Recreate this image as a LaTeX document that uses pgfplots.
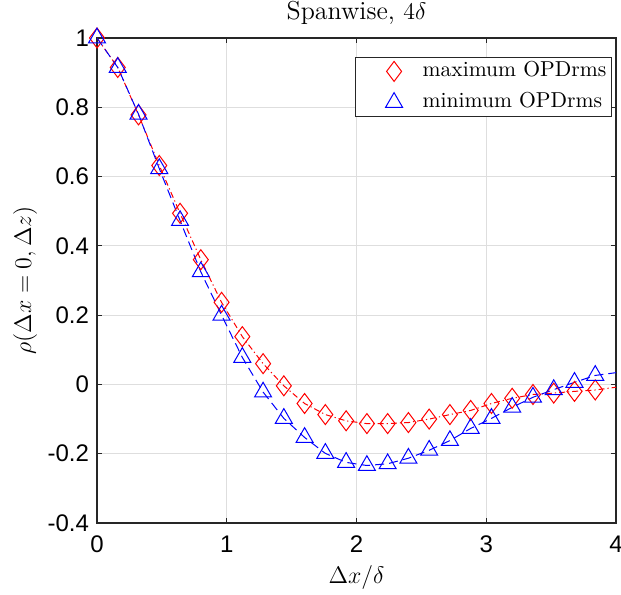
\documentclass[border=0pt]{standalone}
\usepackage{fontspec}
\setsansfont{Liberation Sans}
\usepackage{pgfplots}
\pgfplotsset{compat=1.18}

\definecolor{mred}{rgb}{1,0,0}
\definecolor{mblue}{rgb}{0,0,1}

% spanwise correlation, marker spacing 0.16 delta
\pgfplotstableread{
x     maxo     mino
0.00  1.000    1.000
0.16  0.915    0.915
0.32  0.778    0.780
0.48  0.632    0.623
0.64  0.494    0.473
0.80  0.360    0.325
0.96  0.237    0.200
1.12  0.138    0.078
1.28  0.060   -0.022
1.44 -0.004   -0.098
1.60 -0.055   -0.153
1.76 -0.087   -0.199
1.92 -0.105   -0.225
2.08 -0.113   -0.234
2.24 -0.113   -0.229
2.40 -0.110   -0.213
2.56 -0.100   -0.190
2.72 -0.087   -0.162
2.88 -0.075   -0.127
3.04 -0.055   -0.098
3.20 -0.040   -0.066
3.36 -0.029   -0.037
3.52 -0.025   -0.015
3.68 -0.020    0.006
3.84 -0.016    0.026
4.00 -0.008    0.034
}\corrdata

\begin{document}
\begin{tikzpicture}
\begin{axis}[
  name=ax,
  scale only axis, width=259.5bp, height=242.5bp,
  xmin=0, xmax=4, ymin=-0.4, ymax=1,
  xtick={0,1,2,3,4}, ytick={-0.4,-0.2,0,0.2,0.4,0.6,0.8,1},
  /pgf/number format/assume math mode=true,
  tick label style={font=\fontsize{12bp}{13bp}\sffamily},
  xticklabel style={yshift=-3bp},
  yticklabel style={xshift=-0.5bp},
  tick align=inside, major tick length=2.5bp,
  axis line style={black!85, line width=0.6bp},
  every tick/.style={black!85, line width=0.6bp},
  grid=major, grid style={black!13, line width=0.5bp},
  title={Spanwise, $4\delta$},
  every axis title/.style={at={(axis description cs:0.5,1.039)}, anchor=base, font=\fontsize{13bp}{15bp}\selectfont},
  xlabel={$\Delta x/\delta$},
  xlabel style={at={(axis description cs:0.5,-0.124)}, anchor=base, font=\fontsize{13bp}{15bp}\selectfont},
  ylabel={$\rho(\Delta x=0,\Delta z)$},
  ylabel style={at={(axis description cs:-0.127,0.5)}, anchor=base, font=\fontsize{13bp}{15bp}\selectfont},
  legend style={at={(0.992,0.961)}, anchor=north east, draw=black!85, line width=0.5bp,
    fill=white, font=\fontsize{10.8bp}{12bp}\selectfont, inner xsep=2bp, inner ysep=1.5bp,
    column sep=8.5bp, row sep=4.5bp,
    nodes={inner sep=0.5bp, text height=7.5bp, text depth=2.5bp}},
  legend cell align=left,
  legend image code/.code={\path (0bp,0bp) (22bp,0bp); \draw[#1] plot coordinates {(17bp,0bp)};},
]
\addlegendimage{only marks, mred, mark=diamond, mark size=5bp, line width=0.5bp}
\addlegendentry{maximum OPDrms}
\addlegendimage{only marks, mblue, mark=triangle, mark size=4.9bp, line width=0.5bp}
\addlegendentry{minimum OPDrms}
\addplot[forget plot, mred, line width=0.5bp, dash pattern=on 3bp off 1.5bp on 0.6bp off 1.5bp,
  mark=diamond, mark size=5bp, mark indices={1,...,25}, mark options={solid}] table[x=x, y=maxo] {\corrdata};
\addplot[forget plot, mblue, line width=0.5bp, dash pattern=on 4.5bp off 2.5bp,
  mark=triangle, mark size=4.9bp, mark indices={1,...,25}, mark options={solid}] table[x=x, y=mino] {\corrdata};
\end{axis}
\pgfresetboundingbox
\path[use as bounding box] ([xshift=-48.5bp, yshift=-35.5bp]ax.south west) rectangle ([xshift=2.5bp, yshift=19bp]ax.north east);
\end{tikzpicture}
\end{document}
